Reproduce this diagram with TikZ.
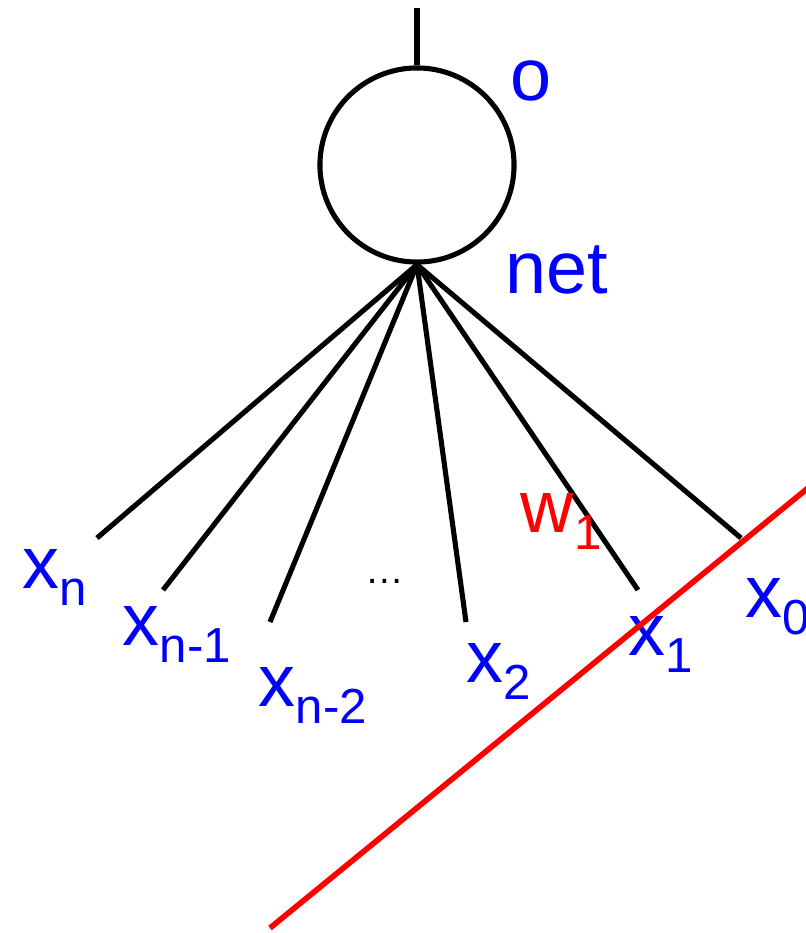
\documentclass[tikz,border=0pt]{standalone}
\usepackage{fontspec}
\setmainfont{Liberation Sans}
\newcommand{\lowsub}[1]{\raisebox{-0.24em}{\fontsize{14}{16}\selectfont #1}}
\tikzset{
  wire/.style={line width=1.45pt,black},
  cut/.style={line width=1.6pt,red},
  inlabel/.style={anchor=base west,inner sep=0pt,blue,font=\fontsize{21}{25}\selectfont},
}
\begin{document}
\begin{tikzpicture}[x=0.01cm,y=-0.01cm]
  \useasboundingbox (0,0) rectangle (806,933);
  % unit
  \node[circle,draw,line width=1.45pt,minimum size=1.94cm,inner sep=0pt] (neuron) at (417,165) {};
  \coordinate (out) at (417,8);
  \draw[wire] (neuron.north) -- (out);
  % inputs
  \foreach \name/\x/\y in {xn/97/538,xnm1/163/590,xnm2/270/622,xtwo/466/622,xone/638/590,xzero/741/538}
    {
      \coordinate (\name) at (\x,\y);
      \draw[wire] (neuron.south) -- (\name);
    }
  % labels
  \node[inlabel] (lo) at (510,100) {o};
  \node[inlabel] (lnet) at (505,293) {net};
  \foreach \x/\y/\txt in {22/588/n,122/645/n-1,258/706/n-2,466/682/2,628/655/1,745/617/0}
    \node[inlabel] at (\x,\y) {x\lowsub{\txt}};
  \node[anchor=base west,inner sep=0pt,font=\fontsize{11}{13}\selectfont] (ldots) at (365,583) {…};
  \node[inlabel,red] (lw) at (520,532) {w\lowsub{1}};
  % plane
  \coordinate (redlo) at (270,928);
  \coordinate (redhi) at (830,470);
  \draw[cut] (redlo) -- (redhi);
  \node[anchor=base west,inner sep=0pt,green!60!black,font=\fontsize{28}{32}\selectfont] (ltop) at (683,-2) {on};
\end{tikzpicture}
\end{document}
